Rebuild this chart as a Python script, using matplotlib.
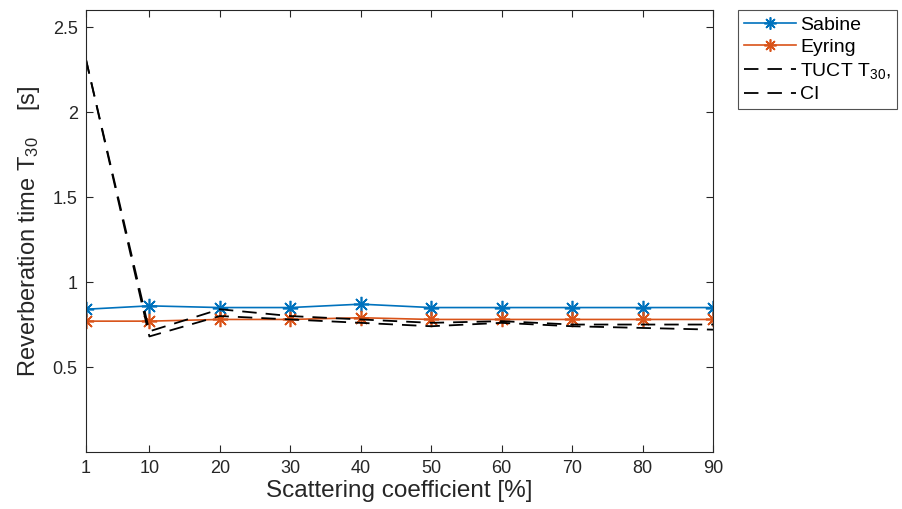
import numpy as np
import matplotlib
matplotlib.use('Agg')
import matplotlib.pyplot as plt

plt.rcParams['font.family'] = ['Liberation Sans', 'DejaVu Sans']
plt.rcParams['mathtext.fontset'] = 'custom'
plt.rcParams['mathtext.rm'] = 'Liberation Sans'
plt.rcParams['mathtext.it'] = 'Liberation Sans'

# scattering coefficient [%]
scattering = [1, 10, 20, 30, 40, 50, 60, 70, 80, 90]

# reverberation times [s]
sabine = [0.84, 0.86, 0.85, 0.85, 0.87, 0.85, 0.85, 0.85, 0.85, 0.85]
eyring = [0.77, 0.77, 0.78, 0.78, 0.79, 0.78, 0.78, 0.78, 0.78, 0.78]
tuct_t30 = [2.31, 0.71, 0.84, 0.80, 0.78, 0.76, 0.77, 0.75, 0.75, 0.75]
tuct_ci = [2.31, 0.68, 0.80, 0.78, 0.76, 0.74, 0.76, 0.74, 0.73, 0.72]

xticks = [1, 10, 20, 30, 40, 50, 60, 70, 80, 90]
yticks = [0.5, 1, 1.5, 2, 2.5]

# MATLAB style '*' marker: plus and cross together
star = (8, 2, 0)

fig = plt.figure(figsize=(9.03, 5.09), dpi=100)
ax = fig.add_axes([0.0952, 0.112, 0.6944, 0.868])

ax.plot(scattering, sabine, '-', marker=star, color='#0072BD', lw=1.2, ms=11,
        mew=1.2, label='Sabine')
ax.plot(scattering, eyring, '-', marker=star, color='#D95319', lw=1.2, ms=11,
        mew=1.2, label='Eyring')
ax.plot(scattering, tuct_t30, '--', color='black', lw=1.3, dashes=(8, 5),
        label='TUCT T$_{30}$,')
ax.plot(scattering, tuct_ci, '--', color='black', lw=1.3, dashes=(8, 5), label='CI')

ax.set_xlim(1, 90)
ax.set_ylim(0, 2.6)
ax.set_xticks(xticks)
ax.set_yticks(yticks)
ax.set_yticklabels(['0.5', '1', '1.5', '2', '2.5'])
ax.tick_params(direction='in', length=5, width=0.8, top=True, right=True,
               labelsize=13, colors='#262626', pad=6)
for s in ax.spines.values():
    s.set_color('#262626')
    s.set_linewidth(0.8)

ax.set_xlabel('Scattering coefficient [%]', fontsize=17.5, color='#262626', labelpad=2)
ax.set_ylabel('Reverberation time T$_{30}$    [s]', fontsize=17, color='#262626', labelpad=8)

leg = ax.legend(loc='upper left', bbox_to_anchor=(1.04, 1.0), fontsize=14,
                frameon=True, fancybox=False, edgecolor='#262626',
                handlelength=2.7, handletextpad=0.2, borderpad=0.3,
                labelspacing=0.25, borderaxespad=0, markerscale=0.8)
leg.get_frame().set_linewidth(0.8)

fig.savefig('out.png', dpi=100)
